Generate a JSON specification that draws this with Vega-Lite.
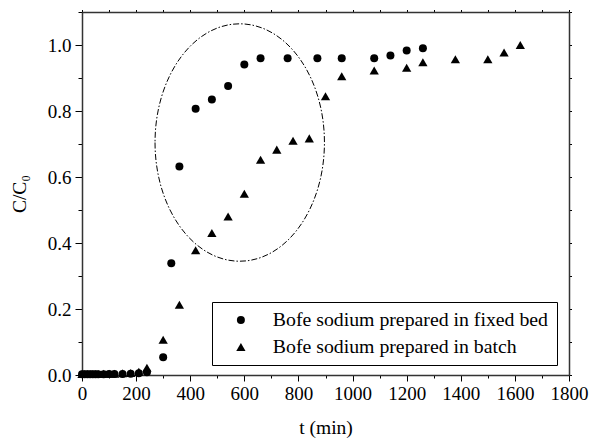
{
  "$schema": "https://vega.github.io/schema/vega-lite/v6.json",
  "width": 487,
  "height": 363,
  "autosize": {"type": "none"},
  "padding": {"left": 82, "top": 12, "right": 22, "bottom": 64},
  "background": "white",
  "config": {
    "view": {"stroke": null},
    "font": "Liberation Serif",
    "axis": {
      "grid": false,
      "domainColor": "#333333",
      "domainWidth": 1.5,
      "tickColor": "black",
      "tickWidth": 1,
      "labelFont": "Liberation Serif",
      "labelFontSize": 19,
      "labelColor": "black",
      "titleFont": "Liberation Serif",
      "titleFontSize": 19.5,
      "titleFontWeight": "normal",
      "titleColor": "black",
      "labelFlush": false,
      "labelOverlap": false
    },
    "legend": {
      "orient": "none",
      "legendX": 130,
      "legendY": 290,
      "title": null,
      "strokeColor": "black",
      "fillColor": "white",
      "padding": 8,
      "labelFont": "Liberation Serif",
      "labelFontSize": 19.8,
      "labelColor": "black",
      "labelLimit": 400,
      "symbolOffset": 11,
      "labelOffset": 22,
      "rowPadding": 6,
      "symbolFillColor": "black",
      "symbolStrokeWidth": 0
    }
  },
  "layer": [
    {
      "data": {
        "values": [
          {"t": 0, "c": 0.002, "series": "Bofe sodium prepared in fixed bed"},
          {"t": 10, "c": 0.002, "series": "Bofe sodium prepared in fixed bed"},
          {"t": 20, "c": 0.002, "series": "Bofe sodium prepared in fixed bed"},
          {"t": 30, "c": 0.002, "series": "Bofe sodium prepared in fixed bed"},
          {"t": 40, "c": 0.002, "series": "Bofe sodium prepared in fixed bed"},
          {"t": 50, "c": 0.002, "series": "Bofe sodium prepared in fixed bed"},
          {"t": 60, "c": 0.002, "series": "Bofe sodium prepared in fixed bed"},
          {"t": 80, "c": 0.002, "series": "Bofe sodium prepared in fixed bed"},
          {"t": 100, "c": 0.003, "series": "Bofe sodium prepared in fixed bed"},
          {"t": 120, "c": 0.003, "series": "Bofe sodium prepared in fixed bed"},
          {"t": 150, "c": 0.003, "series": "Bofe sodium prepared in fixed bed"},
          {"t": 180, "c": 0.004, "series": "Bofe sodium prepared in fixed bed"},
          {"t": 210, "c": 0.005, "series": "Bofe sodium prepared in fixed bed"},
          {"t": 240, "c": 0.008, "series": "Bofe sodium prepared in fixed bed"},
          {"t": 300, "c": 0.054, "series": "Bofe sodium prepared in fixed bed"},
          {"t": 330, "c": 0.339, "series": "Bofe sodium prepared in fixed bed"},
          {"t": 360, "c": 0.632, "series": "Bofe sodium prepared in fixed bed"},
          {"t": 420, "c": 0.807, "series": "Bofe sodium prepared in fixed bed"},
          {"t": 480, "c": 0.835, "series": "Bofe sodium prepared in fixed bed"},
          {"t": 540, "c": 0.876, "series": "Bofe sodium prepared in fixed bed"},
          {"t": 600, "c": 0.941, "series": "Bofe sodium prepared in fixed bed"},
          {"t": 660, "c": 0.96, "series": "Bofe sodium prepared in fixed bed"},
          {"t": 760, "c": 0.96, "series": "Bofe sodium prepared in fixed bed"},
          {"t": 870, "c": 0.96, "series": "Bofe sodium prepared in fixed bed"},
          {"t": 960, "c": 0.96, "series": "Bofe sodium prepared in fixed bed"},
          {"t": 1080, "c": 0.96, "series": "Bofe sodium prepared in fixed bed"},
          {"t": 1140, "c": 0.968, "series": "Bofe sodium prepared in fixed bed"},
          {"t": 1200, "c": 0.983, "series": "Bofe sodium prepared in fixed bed"},
          {"t": 1260, "c": 0.99, "series": "Bofe sodium prepared in fixed bed"},
          {"t": 0, "c": 0.003, "series": "Bofe sodium prepared in batch"},
          {"t": 10, "c": 0.003, "series": "Bofe sodium prepared in batch"},
          {"t": 20, "c": 0.003, "series": "Bofe sodium prepared in batch"},
          {"t": 30, "c": 0.003, "series": "Bofe sodium prepared in batch"},
          {"t": 40, "c": 0.003, "series": "Bofe sodium prepared in batch"},
          {"t": 50, "c": 0.003, "series": "Bofe sodium prepared in batch"},
          {"t": 60, "c": 0.003, "series": "Bofe sodium prepared in batch"},
          {"t": 80, "c": 0.004, "series": "Bofe sodium prepared in batch"},
          {"t": 100, "c": 0.004, "series": "Bofe sodium prepared in batch"},
          {"t": 120, "c": 0.004, "series": "Bofe sodium prepared in batch"},
          {"t": 150, "c": 0.005, "series": "Bofe sodium prepared in batch"},
          {"t": 180, "c": 0.006, "series": "Bofe sodium prepared in batch"},
          {"t": 210, "c": 0.01, "series": "Bofe sodium prepared in batch"},
          {"t": 240, "c": 0.022, "series": "Bofe sodium prepared in batch"},
          {"t": 300, "c": 0.107, "series": "Bofe sodium prepared in batch"},
          {"t": 360, "c": 0.213, "series": "Bofe sodium prepared in batch"},
          {"t": 420, "c": 0.378, "series": "Bofe sodium prepared in batch"},
          {"t": 480, "c": 0.43, "series": "Bofe sodium prepared in batch"},
          {"t": 540, "c": 0.48, "series": "Bofe sodium prepared in batch"},
          {"t": 600, "c": 0.549, "series": "Bofe sodium prepared in batch"},
          {"t": 660, "c": 0.652, "series": "Bofe sodium prepared in batch"},
          {"t": 720, "c": 0.683, "series": "Bofe sodium prepared in batch"},
          {"t": 780, "c": 0.71, "series": "Bofe sodium prepared in batch"},
          {"t": 840, "c": 0.717, "series": "Bofe sodium prepared in batch"},
          {"t": 900, "c": 0.845, "series": "Bofe sodium prepared in batch"},
          {"t": 960, "c": 0.905, "series": "Bofe sodium prepared in batch"},
          {"t": 1080, "c": 0.923, "series": "Bofe sodium prepared in batch"},
          {"t": 1200, "c": 0.931, "series": "Bofe sodium prepared in batch"},
          {"t": 1260, "c": 0.948, "series": "Bofe sodium prepared in batch"},
          {"t": 1380, "c": 0.957, "series": "Bofe sodium prepared in batch"},
          {"t": 1500, "c": 0.957, "series": "Bofe sodium prepared in batch"},
          {"t": 1560, "c": 0.977, "series": "Bofe sodium prepared in batch"},
          {"t": 1620, "c": 1.0, "series": "Bofe sodium prepared in batch"}
        ]
      },
      "mark": {"type": "point", "filled": true, "color": "black", "opacity": 1},
      "encoding": {
        "x": {
          "field": "t",
          "type": "quantitative",
          "scale": {"domain": [0, 1800], "nice": false, "zero": false},
          "axis": {
            "orient": "bottom",
            "title": "t (min)",
            "values": [0, 100, 200, 300, 400, 500, 600, 700, 800, 900, 1000, 1100, 1200, 1300, 1400, 1500, 1600, 1700, 1800],
            "format": "d",
            "labelExpr": "datum.value % 200 === 0 ? datum.label : ''",
            "tickSize": {"condition": {"test": "datum.value % 200 === 0", "value": 6}, "value": 3},
            "labelPadding": 3,
            "titlePadding": 15
          }
        },
        "y": {
          "field": "c",
          "type": "quantitative",
          "scale": {"domain": [0, 1.1], "nice": false, "zero": false},
          "axis": {
            "orient": "left",
            "title": "C/C₀",
            "values": [0, 0.1, 0.2, 0.3, 0.4, 0.5, 0.6, 0.7, 0.8, 0.9, 1.0, 1.1],
            "labelExpr": "round(datum.value * 10) % 2 === 0 ? format(datum.value, '.1f') : ''",
            "tickSize": {"condition": {"test": "round(datum.value * 10) % 2 === 0", "value": 7}, "value": 4},
            "labelPadding": 4,
            "titlePadding": 18
          }
        },
        "shape": {
          "field": "series",
          "type": "nominal",
          "scale": {
            "domain": ["Bofe sodium prepared in fixed bed", "Bofe sodium prepared in batch"],
            "range": ["circle", "triangle-up"]
          }
        },
        "size": {
          "field": "series",
          "type": "nominal",
          "scale": {
            "domain": ["Bofe sodium prepared in fixed bed", "Bofe sodium prepared in batch"],
            "range": [64, 86]
          }
        }
      }
    },
    {
      "data": {"values": [{"t": 583, "c": 0.7045}]},
      "mark": {
        "type": "point",
        "shape": "M -0.7136 0 A 0.7136 1 0 1 0 0.7136 0 A 0.7136 1 0 1 0 -0.7136 0 Z",
        "size": 56359,
        "filled": false,
        "stroke": "black",
        "strokeWidth": 1,
        "strokeDash": [6, 2, 1.5, 2],
        "opacity": 1
      },
      "encoding": {
        "x": {
          "field": "t",
          "type": "quantitative",
          "axis": {
            "orient": "top",
            "title": null,
            "labels": false,
            "values": [0, 100, 200, 300, 400, 500, 600, 700, 800, 900, 1000, 1100, 1200, 1300, 1400, 1500, 1600, 1700, 1800],
            "tickSize": 2.5
          }
        },
        "y": {
          "field": "c",
          "type": "quantitative",
          "axis": {
            "orient": "right",
            "title": null,
            "labels": false,
            "values": [0, 0.1, 0.2, 0.3, 0.4, 0.5, 0.6, 0.7, 0.8, 0.9, 1.0, 1.1],
            "tickSize": 2.5
          }
        }
      }
    }
  ],
  "resolve": {"axis": {"x": "independent", "y": "independent"}}
}
